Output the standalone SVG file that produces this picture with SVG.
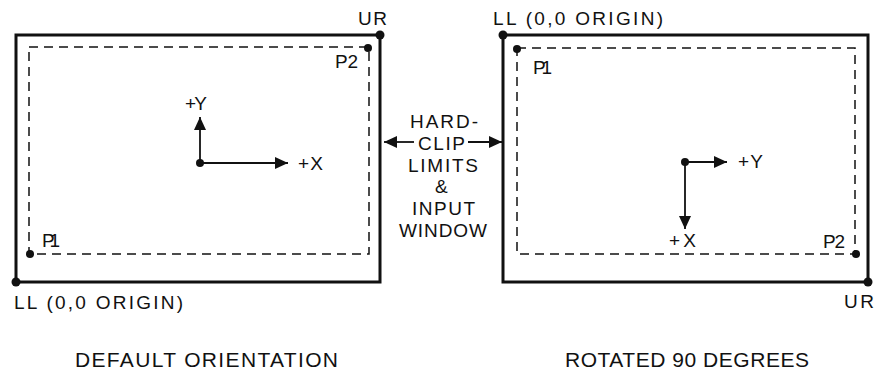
<svg xmlns="http://www.w3.org/2000/svg" width="885" height="374" viewBox="0 0 885 374">
<style>
text { font-family: "Liberation Sans", Arial, sans-serif; font-size: 19px; fill: #111; }
.cap { font-size: 21px; }
.outer { fill: none; stroke: #111; stroke-width: 3; }
.dash { fill: none; stroke: #111; stroke-width: 1.5; stroke-dasharray: 9 6; }
.dot { fill: #111; }
.ax { stroke: #111; stroke-width: 1.8; fill: none; marker-end: url(#ah); }
</style>
<defs>
<marker id="ah" markerUnits="userSpaceOnUse" markerWidth="13" markerHeight="12" refX="13" refY="6" orient="auto">
<path d="M0,0 L13,6 L0,12 z" fill="#111"/>
</marker>
</defs>
<rect width="885" height="374" fill="#fff"/>
<g id="default-panel">
<rect class="outer" x="16" y="35" width="364" height="247"/>
<rect class="dash" x="29" y="47" width="340" height="207"/>
<circle class="dot" cx="16" cy="282" r="4.5"/>
<circle class="dot" cx="380" cy="35" r="4.5"/>
<circle class="dot" cx="368" cy="48" r="4"/>
<circle class="dot" cx="30" cy="254" r="4"/>
<circle class="dot" cx="200" cy="163" r="4"/>
<path class="ax" d="M200,163 L288,163"/>
<path class="ax" d="M200,163 L200,117"/>
<text x="358" y="25" textLength="29" lengthAdjust="spacing">UR</text>
<text x="335" y="68" textLength="23" lengthAdjust="spacing">P2</text>
<text x="42" y="247" textLength="18" lengthAdjust="spacing">P1</text>
<text x="185" y="110" textLength="22" lengthAdjust="spacing">+Y</text>
<text x="298" y="170" textLength="25" lengthAdjust="spacing">+X</text>
<text x="14" y="309" textLength="169" lengthAdjust="spacing">LL (0,0 ORIGIN)</text>
<text class="cap" x="75" y="367" textLength="263" lengthAdjust="spacing">DEFAULT ORIENTATION</text>
</g>
<g id="rotated-panel">
<rect class="outer" x="503" y="35" width="365" height="247"/>
<rect class="dash" x="517" y="48" width="338" height="206"/>
<circle class="dot" cx="503" cy="35" r="4.5"/>
<circle class="dot" cx="868" cy="282" r="4.5"/>
<circle class="dot" cx="517" cy="49" r="4"/>
<circle class="dot" cx="856" cy="254" r="4"/>
<circle class="dot" cx="685" cy="162" r="4"/>
<path class="ax" d="M685,162 L727,162"/>
<path class="ax" d="M685,162 L685,229"/>
<text x="493" y="25" textLength="170" lengthAdjust="spacing">LL (0,0 ORIGIN)</text>
<text x="533" y="74" textLength="19" lengthAdjust="spacing">P1</text>
<text x="823" y="248" textLength="22" lengthAdjust="spacing">P2</text>
<text x="738" y="168" textLength="25" lengthAdjust="spacing">+Y</text>
<text x="669" y="247" textLength="27" lengthAdjust="spacing">+X</text>
<text x="844" y="308" textLength="30" lengthAdjust="spacing">UR</text>
<text class="cap" x="565" y="367" textLength="244" lengthAdjust="spacing">ROTATED 90 DEGREES</text>
</g>
<g id="hardclip-label">
<text x="410" y="128" textLength="68" lengthAdjust="spacing">HARD-</text>
<text x="418" y="150" textLength="47" lengthAdjust="spacing">CLIP</text>
<text x="408" y="172" textLength="70" lengthAdjust="spacing">LIMITS</text>
<text x="435" y="193" textLength="13" lengthAdjust="spacing">&amp;</text>
<text x="412" y="215" textLength="63" lengthAdjust="spacing">INPUT</text>
<text x="399" y="237" textLength="88" lengthAdjust="spacing">WINDOW</text>
</g>
<g id="connectors">
<path class="ax" d="M414,142 L384,142"/>
<path class="ax" d="M468,142 L502,142"/>
</g>
</svg>
